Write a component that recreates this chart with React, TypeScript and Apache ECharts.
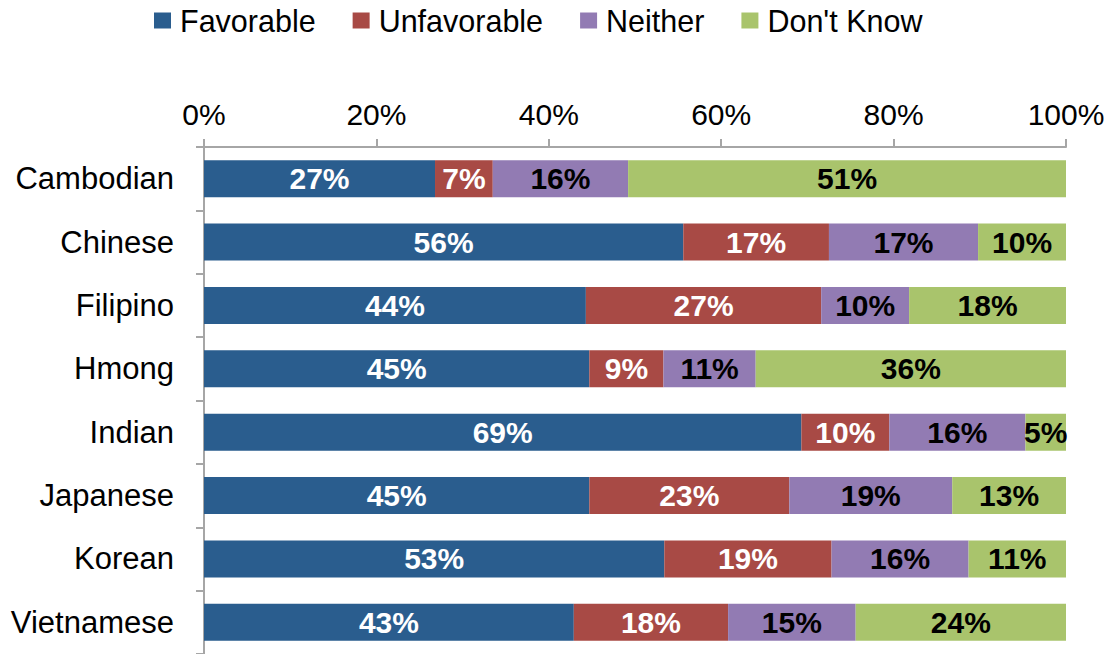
import React, { useEffect, useRef } from "react";
import * as echarts from "echarts";

const categories = ["Cambodian", "Chinese", "Filipino", "Hmong", "Indian", "Japanese", "Korean", "Vietnamese"];
const favorable = [26.8, 55.6, 44.3, 44.7, 69.3, 44.7, 53.4, 42.9];
const unfavorable = [6.7, 16.9, 27.3, 8.6, 10.2, 23.2, 19.4, 17.9];
const neither = [15.7, 17.3, 10.2, 10.7, 15.8, 18.9, 15.9, 14.8];
const dontKnow = [50.8, 10.2, 18.2, 36.0, 4.7, 13.2, 11.3, 24.4];
const xTicks = [0, 20, 40, 60, 80, 100];

const FONT = "'Liberation Sans', Arial, sans-serif";

export default function App() {
  const ref = useRef<HTMLDivElement>(null);
  useEffect(() => {
    document.body.style.margin = "0";
    const chart = echarts.init(ref.current!, null, { renderer: "svg" });
    const mk = (name: string, data: number[], color: string, labelColor: string) => ({
      name,
      type: "bar",
      stack: "total",
      data,
      barWidth: 37,
      itemStyle: { color },
      label: {
        show: true,
        position: "inside",
        color: labelColor,
        fontWeight: "bold",
        fontSize: 30,
        fontFamily: FONT,
        formatter: (p: any) => Math.round(p.value) + "%",
      },
    });
    chart.setOption({
      animation: false,
      textStyle: { fontFamily: FONT },
      legend: {
        left: 149,
        top: 0,
        itemWidth: 17,
        itemHeight: 16,
        itemGap: 37,
        icon: "rect",
        textStyle: { fontSize: 30.5, color: "#000", fontFamily: FONT, padding: [0, 0, 0, 4] },
        data: ["Favorable", "Unfavorable", "Neither", "Don't Know"],
      },
      grid: { left: 204, top: 147, width: 862, height: 510, containLabel: false },
      xAxis: {
        type: "value",
        position: "top",
        min: 0,
        max: 100,
        interval: xTicks[1] - xTicks[0],
        axisLine: { show: true, lineStyle: { color: "#a6a6a6", width: 2 } },
        axisTick: { show: true, length: 8, lineStyle: { color: "#a6a6a6", width: 2 } },
        splitLine: { show: false },
        axisLabel: {
          fontSize: 30,
          color: "#000",
          margin: 18,
          fontFamily: FONT,
          formatter: (v: number) => v + "%",
        },
      },
      yAxis: {
        type: "category",
        inverse: true,
        data: categories,
        axisLine: { show: true, lineStyle: { color: "#a6a6a6", width: 2 } },
        axisTick: { show: true, length: 8, lineStyle: { color: "#a6a6a6", width: 2 } },
        axisLabel: { fontSize: 31, color: "#000", margin: 30, fontFamily: FONT },
      },
      series: [
        mk("Favorable", favorable, "#2a5d8e", "#fff"),
        mk("Unfavorable", unfavorable, "#a84a45", "#fff"),
        mk("Neither", neither, "#927bb3", "#000"),
        mk("Don't Know", dontKnow, "#a9c46c", "#000"),
      ],
    });
    return () => chart.dispose();
  }, []);
  return <div ref={ref} style={{ width: 1111, height: 654 }} />;
}
